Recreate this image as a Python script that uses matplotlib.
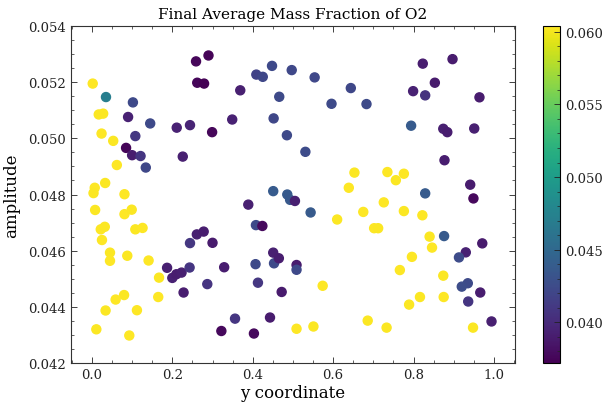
import matplotlib
matplotlib.use("Agg")
import matplotlib.pyplot as plt
from matplotlib.ticker import AutoMinorLocator
import numpy as np

# y coordinate values
y_coord = [
    0.002, 0.035, 0.017, 0.028, 0.024, 0.053, 0.062, 0.033, 0.007, 0.004,
    0.081, 0.008, 0.081, 0.099, 0.022, 0.032, 0.025, 0.108, 0.126, 0.045,
    0.045, 0.088, 0.141, 0.167, 0.165, 0.080, 0.059, 0.034, 0.112, 0.011,
    0.093,
    0.102, 0.090, 0.145, 0.108, 0.085, 0.100, 0.121, 0.134, 0.211, 0.244,
    0.226, 0.259, 0.290, 0.262, 0.279, 0.299, 0.369, 0.349, 0.409, 0.425,
    0.448, 0.497, 0.466, 0.452, 0.485, 0.451, 0.486, 0.493, 0.505, 0.554,
    0.644, 0.596, 0.683, 0.531, 0.544, 0.794, 0.829, 0.823, 0.897, 0.853,
    0.799, 0.829, 0.964, 0.874, 0.884, 0.951, 0.877, 0.941, 0.949, 0.876,
    0.971, 0.930, 0.913, 0.935, 0.920, 0.966, 0.936, 0.994,
    0.187, 0.200, 0.210, 0.223, 0.243, 0.228, 0.287, 0.244, 0.261, 0.278,
    0.300, 0.329, 0.322, 0.356, 0.389, 0.408, 0.424, 0.407, 0.413, 0.403,
    0.443, 0.472, 0.451, 0.453, 0.465, 0.509, 0.509,
    0.509, 0.551, 0.574, 0.610, 0.639, 0.653, 0.675, 0.686, 0.702, 0.712,
    0.726, 0.733, 0.735, 0.756, 0.776, 0.776, 0.766, 0.789, 0.796, 0.816,
    0.822, 0.840, 0.846, 0.874, 0.875, 0.948,
]

# amplitude values
amplitude = [
    0.05195, 0.05147, 0.05085, 0.05088, 0.05017, 0.04991, 0.04905, 0.04841, 0.04824, 0.04805,
    0.04801, 0.04745, 0.04730, 0.04746, 0.04676, 0.04685, 0.04638, 0.04676, 0.04681, 0.04593,
    0.04564, 0.04582, 0.04565, 0.04504, 0.04435, 0.04442, 0.04426, 0.04387, 0.04388, 0.04320,
    0.04298,
    0.05128, 0.05076, 0.05053, 0.05008, 0.04966, 0.04940, 0.04937, 0.04896, 0.05038, 0.05047,
    0.04935, 0.05274, 0.05295, 0.05198, 0.05195, 0.05022, 0.05171, 0.05067, 0.05227, 0.05219,
    0.05258, 0.05243, 0.05148, 0.05071, 0.05011, 0.04812, 0.04800, 0.04781, 0.04777, 0.05217,
    0.05179, 0.05123, 0.05122, 0.04952, 0.04736, 0.05045, 0.04804, 0.05266, 0.05282, 0.05198,
    0.05168, 0.05153, 0.05146, 0.05034, 0.05022, 0.05035, 0.04922, 0.04835, 0.04786, 0.04652,
    0.04626, 0.04594, 0.04576, 0.04484, 0.04472, 0.04451, 0.04419, 0.04348,
    0.04539, 0.04503, 0.04516, 0.04522, 0.04540, 0.04451, 0.04481, 0.04627, 0.04658, 0.04668,
    0.04628, 0.04541, 0.04314, 0.04358, 0.04764, 0.04691, 0.04688, 0.04552, 0.04486, 0.04305,
    0.04362, 0.04453, 0.04593, 0.04555, 0.04573, 0.04549, 0.04532,
    0.04322, 0.04330, 0.04475, 0.04711, 0.04824, 0.04878, 0.04738, 0.04351, 0.04680, 0.04680,
    0.04772, 0.04326, 0.04880, 0.04851, 0.04874, 0.04741, 0.04531, 0.04408, 0.04578, 0.04435,
    0.04726, 0.04650, 0.04611, 0.04511, 0.04435, 0.04326,
]

# final average mass fraction of O2
mass_fraction = [
    0.0604, 0.0470, 0.0603, 0.0603, 0.0604, 0.0603, 0.0604, 0.0603, 0.0604, 0.0603,
    0.0604, 0.0603, 0.0604, 0.0603, 0.0604, 0.0603, 0.0604, 0.0603, 0.0604, 0.0603,
    0.0604, 0.0603, 0.0604, 0.0603, 0.0604, 0.0603, 0.0604, 0.0603, 0.0604, 0.0603,
    0.0604,
    0.0423, 0.0393, 0.0423, 0.0410, 0.0375, 0.0390, 0.0408, 0.0421, 0.0393, 0.0395,
    0.0392, 0.0376, 0.0374, 0.0375, 0.0372, 0.0376, 0.0392, 0.0393, 0.0418, 0.0421,
    0.0423, 0.0422, 0.0424, 0.0421, 0.0423, 0.0438, 0.0437, 0.0436, 0.0392, 0.0422,
    0.0421, 0.0424, 0.0424, 0.0425, 0.0437, 0.0438, 0.0438, 0.0391, 0.0390, 0.0389,
    0.0393, 0.0406, 0.0390, 0.0392, 0.0391, 0.0392, 0.0391, 0.0390, 0.0377, 0.0437,
    0.0389, 0.0393, 0.0425, 0.0424, 0.0426, 0.0391, 0.0408, 0.0392,
    0.0392, 0.0393, 0.0391, 0.0392, 0.0408, 0.0391, 0.0407, 0.0409, 0.0392, 0.0391,
    0.0389, 0.0391, 0.0377, 0.0408, 0.0392, 0.0424, 0.0378, 0.0424, 0.0409, 0.0377,
    0.0390, 0.0389, 0.0392, 0.0424, 0.0391, 0.0390, 0.0423,
    0.0604, 0.0603, 0.0604, 0.0603, 0.0604, 0.0603, 0.0604, 0.0603, 0.0604, 0.0603,
    0.0604, 0.0603, 0.0604, 0.0603, 0.0604, 0.0603, 0.0604, 0.0603, 0.0604, 0.0603,
    0.0604, 0.0603, 0.0604, 0.0603, 0.0604, 0.0603,
]

title = "Final Average Mass Fraction of O2"
x_label = "y coordinate"
y_label = "amplitude"
x_ticks = [0.0, 0.2, 0.4, 0.6, 0.8, 1.0]
y_ticks = [0.042, 0.044, 0.046, 0.048, 0.050, 0.052, 0.054]
cbar_ticks = [0.040, 0.045, 0.050, 0.055, 0.060]

plt.rcParams['font.family'] = ['DejaVu Serif']
plt.rcParams['mathtext.fontset'] = 'dejavuserif'

fig = plt.figure(figsize=(6.1, 4.06), dpi=100)
ax = fig.add_axes([0.1164, 0.1034, 0.7276, 0.8301])
cax = fig.add_axes([0.8897, 0.1034, 0.0285, 0.8301])

sc = ax.scatter(y_coord, amplitude, c=mass_fraction, cmap='viridis', s=42)

ax.set_xlim(-0.052, 1.052)
ax.set_ylim(0.042, 0.054)
ax.set_xticks(x_ticks)
ax.set_yticks(y_ticks)
ax.set_xticklabels([f"{v:.1f}" for v in x_ticks])
ax.set_yticklabels([f"{v:.3f}" for v in y_ticks])
ax.xaxis.set_minor_locator(AutoMinorLocator(4))
ax.yaxis.set_minor_locator(AutoMinorLocator(4))
ax.tick_params(which='both', direction='in', top=True, right=True, labelsize=9.5, colors='#222222')
ax.tick_params(which='major', length=4, width=0.6)
ax.tick_params(which='minor', length=2, width=0.5)
for sp in ax.spines.values():
    sp.set_linewidth(0.8)
    sp.set_color('#333333')

ax.set_title(title, fontsize=11)
ax.set_xlabel(x_label, fontsize=12, labelpad=2)
ax.set_ylabel(y_label, fontsize=12, labelpad=6)

cb = fig.colorbar(sc, cax=cax)
cb.set_ticks(cbar_ticks)
cb.set_ticklabels([f"{v:.3f}" for v in cbar_ticks])
cax.yaxis.set_minor_locator(AutoMinorLocator(5))
cax.tick_params(which='both', direction='in', labelsize=9.5, colors='#222222')
cax.tick_params(which='major', length=4, width=0.6)
cax.tick_params(which='minor', length=2, width=0.5)
cb.outline.set_linewidth(0.8)

fig.savefig("out.png", dpi=100)
